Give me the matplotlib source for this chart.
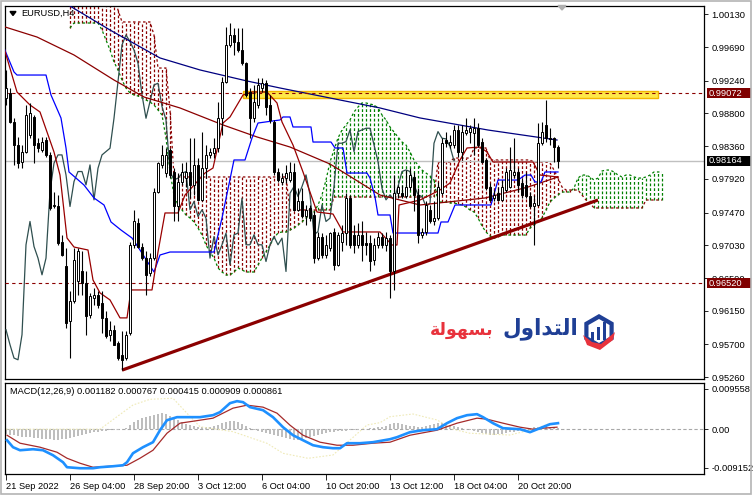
import matplotlib
matplotlib.use("Agg")
import matplotlib.pyplot as plt
import numpy as np
from matplotlib.patches import Rectangle, Polygon
import matplotlib.transforms as mtransforms

plt.rcParams['font.family'] = ['Liberation Sans', 'DejaVu Sans']

W, H = 753, 496

# ---------------- data (EURUSD H4) ----------------
opens = [0.99003,0.99070,0.98691,0.98378,0.98154,0.98288,0.98512,0.98758,0.98400,0.98311,
         0.98445,0.98243,0.97551,0.97551,0.97081,0.96746,0.96009,0.96277,0.96545,0.96679,
         0.96522,0.96098,0.96322,0.96366,0.96254,0.96053,0.95830,0.95897,0.95718,0.95562,
         0.95517,0.95852,0.97037,0.97327,0.97014,0.96858,0.96657,0.96858,0.97752,0.98109,
         0.97997,0.98311,0.98020,0.97551,0.97886,0.97931,0.98020,0.97841,0.98109,0.97640,
         0.98065,0.98243,0.98266,0.98333,0.98735,0.99227,0.99719,0.99853,0.99763,0.99652,
         0.99473,0.99093,0.98735,0.98914,0.99138,0.99205,0.98914,0.98691,0.98020,0.97886,
         0.97931,0.97908,0.98020,0.97506,0.97618,0.97417,0.97528,0.97439,0.96858,0.97148,
         0.96902,0.96992,0.97215,0.96769,0.97081,0.97193,0.97662,0.97171,0.97037,0.97171,
         0.97059,0.97059,0.96836,0.97037,0.97148,0.97037,0.97126,0.96679,0.97729,0.97729,
         0.97685,0.97819,0.97953,0.97707,0.97171,0.97215,0.97506,0.97350,0.97394,0.97729,
         0.98445,0.98378,0.98378,0.98579,0.98288,0.98534,0.98556,0.98534,0.98601,0.98422,
         0.98176,0.97819,0.97662,0.97729,0.97640,0.97774,0.97819,0.97975,0.98020,0.97864,
         0.97841,0.97685,0.97551,0.97573,0.98400,0.98646,0.98476,0.98467,0.98355]
highs = [0.99383,0.99138,0.98735,0.98489,0.98378,0.98914,0.98936,0.98780,0.98467,0.98489,
         0.98489,0.98288,0.97752,0.97707,0.97171,0.96992,0.96411,0.96992,0.96992,0.96947,
         0.96679,0.96389,0.96456,0.96411,0.96411,0.96143,0.96009,0.95964,0.95740,0.95875,
         0.95875,0.97081,0.97506,0.97394,0.97059,0.96947,0.96925,0.97795,0.98154,0.98378,
         0.98333,0.98333,0.98065,0.97997,0.98132,0.98154,0.98467,0.98467,0.98199,0.98556,
         0.98378,0.98333,0.98467,0.98959,0.99294,0.99964,1.00009,0.99942,0.99942,0.99942,
         0.99495,0.99138,0.99182,0.99272,0.99272,0.99249,0.99048,0.98713,0.98065,0.97997,
         0.98109,0.98154,0.98132,0.97795,0.97795,0.97573,0.97573,0.97484,0.97215,0.97193,
         0.97171,0.97215,0.97260,0.97215,0.97305,0.97729,0.97707,0.97305,0.97327,0.97350,
         0.97215,0.97171,0.97126,0.97215,0.97193,0.97215,0.97171,0.97975,0.97841,0.97841,
         0.98042,0.98065,0.98020,0.97795,0.97260,0.97618,0.97573,0.97618,0.97886,0.98467,
         0.98556,0.98512,0.98646,0.98646,0.98646,0.98735,0.98646,0.98735,0.98668,0.98467,
         0.98199,0.97864,0.97774,0.97819,0.97908,0.98065,0.98355,0.98467,0.98065,0.97931,
         0.98020,0.97752,0.97707,0.98668,0.98691,0.98981,0.98601,0.98489,0.98378]
lows = [0.98914,0.98668,0.98109,0.98065,0.98065,0.98266,0.98467,0.98132,0.98288,0.98288,
        0.98221,0.97506,0.97528,0.97037,0.96880,0.95919,0.95517,0.96254,0.96366,0.96366,
        0.95830,0.96053,0.96232,0.96187,0.95852,0.95785,0.95740,0.95696,0.95494,0.95360,
        0.95494,0.95830,0.96992,0.96992,0.96836,0.96366,0.96612,0.96836,0.97729,0.98065,
        0.97953,0.97931,0.97350,0.97350,0.97841,0.97819,0.97662,0.97707,0.97618,0.97618,
        0.97931,0.98199,0.98199,0.98288,0.98512,0.99205,0.99696,0.99584,0.99629,0.99450,
        0.99026,0.98467,0.98691,0.98869,0.99093,0.98780,0.98668,0.97975,0.97886,0.97841,
        0.97864,0.97886,0.97484,0.97484,0.97394,0.97305,0.97350,0.96791,0.96836,0.96858,
        0.96858,0.96947,0.96702,0.96746,0.96947,0.97037,0.96992,0.96925,0.96992,0.96813,
        0.96902,0.96679,0.96769,0.96992,0.96992,0.96947,0.96322,0.96433,0.97662,0.97662,
        0.97662,0.97774,0.97484,0.97059,0.97126,0.97171,0.97327,0.97305,0.97372,0.97707,
        0.98355,0.98333,0.98333,0.98221,0.98176,0.98512,0.98400,0.98243,0.98355,0.98132,
        0.97774,0.97618,0.97618,0.97618,0.97618,0.97752,0.97795,0.97931,0.97752,0.97662,
        0.97662,0.97528,0.97037,0.97551,0.98378,0.98422,0.98378,0.98154,0.98065]
closes = [0.99138,0.98691,0.98378,0.98132,0.98288,0.98780,0.98802,0.98378,0.98333,0.98422,
          0.98243,0.97528,0.97573,0.97059,0.96902,0.95986,0.96277,0.96836,0.96947,0.96522,
          0.96076,0.96344,0.96366,0.96232,0.96053,0.95807,0.95897,0.95696,0.95517,0.95494,
          0.95830,0.97037,0.97350,0.97014,0.96858,0.96634,0.96858,0.97752,0.98132,0.98243,
          0.98243,0.97975,0.97551,0.97886,0.98020,0.98020,0.97841,0.98109,0.97640,0.98065,
          0.98243,0.98288,0.98333,0.98735,0.99227,0.99719,0.99853,0.99763,0.99652,0.99473,
          0.99048,0.98735,0.98959,0.99182,0.99205,0.98892,0.98713,0.98020,0.97908,0.97931,
          0.97997,0.98020,0.97506,0.97618,0.97417,0.97506,0.97394,0.96858,0.97148,0.96902,
          0.97037,0.97193,0.96769,0.97171,0.97193,0.97662,0.97037,0.97037,0.97171,0.97037,
          0.97037,0.96813,0.97037,0.97148,0.97037,0.97126,0.96679,0.97729,0.97819,0.97685,
          0.97819,0.97975,0.97707,0.97171,0.97215,0.97573,0.97350,0.97394,0.97819,0.98400,
          0.98400,0.98422,0.98579,0.98288,0.98556,0.98579,0.98601,0.98601,0.98378,0.98154,
          0.97795,0.97640,0.97707,0.97640,0.97819,0.98020,0.98042,0.98020,0.97841,0.97707,
          0.97685,0.97551,0.97595,0.98400,0.98556,0.98467,0.98458,0.98355,0.98164]

# Ichimoku cloud (Senkou spans), starting at bar 16, projected 26 bars ahead
cloud_start = 16
span_a = ([0.99946] + [1.00013]*7 +
          [0.99919,0.99785,0.99651,0.99490,0.99383,0.99248,0.99141,0.99074,0.99047,0.99034,
           0.99007,0.98980,0.98953,0.98913,0.98846,0.98779,0.98470,0.98014,0.97705,0.97571,
           0.97504,0.97437,0.97397,0.97343,0.97262,0.97168,0.97034,0.96940,0.96860,0.96726,
           0.96672,0.96632,0.96632,0.96672,0.96726,0.96699,0.96672,0.96672,0.96672,0.96766,
           0.96860,0.96940,0.97034,0.97128,0.97195,0.97209,0.97209,0.97235,0.97262,0.97303,
           0.97343,0.97397,0.97437,0.97477,0.97571,0.97705,0.97906,0.98148,0.98309,0.98470,
           0.98577,0.98644,0.98712,0.98819,0.98886,0.98940,0.98940,0.98926,0.98913,0.98873,
           0.98779,0.98712,0.98618,0.98551,0.98484,0.98416,0.98376,0.98282,0.98175,0.98107,
           0.98040,0.98000,0.97960,0.97906,0.97611,0.97611,0.97611,0.97598,0.97598,0.97584,
           0.97571,0.97544,0.97504,0.97477,0.97397,0.97289,0.97209,0.97155,0.97128,0.97141] +
          [0.97168]*7 +
          [0.97262,0.97303,0.97343,0.97397,0.97504,0.97611,0.97665,0.97705,0.97745,0.97745,
           0.97745,0.97799,0.97933,0.97973,0.97973,0.97947,0.97906,0.97933,0.98027,0.98040,
           0.98040,0.98014,0.97973,0.97947,0.97973,0.97973,0.97947,0.97933,0.97933,0.97947,
           0.97973,0.98014,0.98014,0.98014])
span_b = ([1.00400]*12 + [1.00188] + [1.00027]*8 + [0.99852] + [0.99409]*3 + [0.98846] +
          [0.97947]*29 + [0.97504]*11 + [0.97678]*26 + [0.98148]*4 + [0.98201]*5 +
          [0.98336]*4 + [0.98175]*11 + [0.98148]*4 + [0.98134, 0.98040, 0.97933, 0.97812] +
          [0.97772]*4 + [0.97705, 0.97638, 0.97598] + [0.97531]*13 + [0.97638]*5)

# Tenkan-sen (read vertices)
tenkan_x = [-0.5,2.75,6,8.5,10.25,12,13.5,15.25,17,20.5,21.75,23.5,26,28.5,30.25,31.25,34.5,36.5,
            38,39.75,43,44.75,49.75,51.75,54.25,56,59.25,61.5,65.25,67.75,69,71.75,74.25,76,77.75,
            81.75,84.25,93.5,96.5,97.75,98.25,103.5,108.5,111,113.5,115.25,118.5,120.25,121.75,
            131.75,133.5,138]
tenkan_y = [0.99678,0.99087,0.98913,0.98819,0.98551,0.98282,0.97973,0.97128,0.97007,0.96967,0.96565,
            0.96391,0.96297,0.96056,0.96056,0.96431,0.96431,0.96431,0.96940,0.97464,0.97464,0.97705,
            0.98000,0.98067,0.98671,0.98752,0.99047,0.99087,0.99087,0.98940,0.98685,0.98376,0.98014,
            0.97745,0.97477,0.97450,0.97209,0.97209,0.97034,0.97034,0.97571,0.97638,0.97772,0.97866,
            0.98175,0.98336,0.98349,0.98282,0.98148,0.98148,0.97973,0.97947]
# Kijun-sen (read vertices)
kijun_x = [-0.5,2,2.75,10,11.25,13.75,15,15.75,19.5,22,24.5,26.25,28.75,31.5,33.5,37,38.5,41,52,54,
           57,59.75,61.5,63,68.5,69.25,71,71.75,76.25,76.75,81.25,82.25,84.25,85.25,90.25,91,92.25,
           93,96,96.75,108,108.75,110.5,112.25,121.25,123,128,129.75,131.25,132.25,133.75,134.75,138]
kijun_y = [0.99678,0.99356,0.99315,0.99315,0.99047,0.98738,0.98336,0.98014,0.97839,0.97665,0.97571,
           0.97343,0.97235,0.97128,0.96967,0.96672,0.96900,0.96940,0.96940,0.97397,0.98175,0.98175,
           0.98470,0.98671,0.98712,0.98752,0.98752,0.98618,0.98618,0.98416,0.98416,0.98336,0.98336,
           0.98000,0.98000,0.97933,0.97678,0.97437,0.97437,0.97195,0.97195,0.97343,0.97343,0.97571,
           0.97571,0.97906,0.97906,0.97973,0.97973,0.97880,0.97880,0.98014,0.98014]
# Moving averages (read vertices)
ma_slow_x = [16,26,38.5,48.5,60.25,68.5,83.5,93.5,103.5,120.5,137.75]
ma_slow_y = [1.00241,0.99919,0.99544,0.99383,0.99235,0.99141,0.98980,0.98873,0.98739,0.98577,0.98443]
ma_mid_x = [-0.25,7.75,17,27,34.5,43.5,54.25,62.75,71,81,93.5,103.5,119.75,130.5,138]
ma_mid_y = [0.99960,0.99825,0.99584,0.99248,0.99020,0.98873,0.98645,0.98484,0.98349,0.98121,
            0.97705,0.97571,0.97665,0.97812,0.97947]

# horizontal levels / drawings
resistance = 0.99072
support = 0.96520
zone_lo, zone_hi = 0.99004, 0.99095
zone_start, zone_end = 59.25, 163.0
trend_x = [29, 148]
trend_y = [0.95355, 0.97638]
last_price = 0.98164

price_ticks = [1.00130,0.99690,0.99240,0.98800,0.98360,0.97920,0.97470,0.97030,0.96590,0.96150,0.95700,0.95260]
time_tick_bars = [0,16,32,48,64,80,96,112,128]
time_tick_labels = ["21 Sep 2022","26 Sep 04:00","28 Sep 20:00","3 Oct 12:00","6 Oct 04:00",
                    "10 Oct 20:00","13 Oct 12:00","18 Oct 04:00","20 Oct 20:00"]

# MACD panel
macd_x = [0.25,1.75,3.5,6.75,9.25,11.75,14.25,15.25,18.5,21.75,23.5,26.75,29.25,30.25,31.75,34.25,36.75,
          38.5,40.25,42.75,46,48.5,51.75,53.5,56,57.75,59.25,61,64.25,66.75,69.25,71.75,74.25,76.75,
          79.25,81.75,83.5,85.25,88.5,91.75,96,97.75,101,104.25,107.75,110.25,112.75,115.25,117.75,
          119.25,121.75,124.25,128.5,131,133.5,136,138]
macd_y = [-0.00262,-0.00428,-0.00500,-0.00476,-0.00500,-0.00619,-0.00785,-0.00904,-0.00928,-0.00928,
          -0.00904,-0.00881,-0.00857,-0.00785,-0.00571,-0.00428,-0.00309,-0.00024,0.00214,0.00286,
          0.00286,0.00286,0.00333,0.00405,0.00619,0.00666,0.00643,0.00524,0.00452,0.00286,
          0.00048,-0.00143,-0.00262,-0.00381,-0.00428,-0.00452,-0.00452,-0.00333,-0.00333,-0.00309,
          -0.00238,-0.00190,-0.00071,-0.00024,0.0,0.00143,0.00262,0.00333,0.00357,0.00286,
          0.00143,0.00024,0.0,-0.00071,0.00024,0.00119,0.00143]
signal_x = [0.25,3.5,8.5,12.75,15.25,18.5,21.75,26,30.25,33.5,36.75,40.25,43.5,48.5,51.75,56.75,60.25,
            64.25,67.75,71,74.25,78.5,82.75,86.75,91.75,96,101,107.75,112.75,117.75,120.25,124.25,
            128.5,131.75,134.25,137.75]
signal_y = [-0.00143,-0.00333,-0.00428,-0.00547,-0.00690,-0.00809,-0.00904,-0.00881,-0.00857,-0.00690,
            -0.00500,-0.00095,0.00143,0.00214,0.00262,0.00500,0.00571,0.00524,0.00381,0.00095,
            -0.00143,-0.00309,-0.00381,-0.00381,-0.00333,-0.00309,-0.00143,-0.00024,0.00143,0.00262,
            0.00238,0.00143,0.00048,0.0,0.00024,0.00048]
hist_y = [-0.00119,-0.00143,-0.00143,-0.00166,-0.00190,-0.00190,-0.00190,-0.00214,
          -0.00214,-0.00238,-0.00238,-0.00238,-0.00262,-0.00262,-0.00238,-0.00238,
          -0.00214,-0.00190,-0.00166,-0.00143,-0.00119,-0.00095,-0.00071,-0.00071,
          -0.00048,-0.00048,-0.00024,-0.00024,-0.00024,0.0,0.00024,0.00095,
          0.00166,0.00214,0.00262,0.00285,0.00309,0.00333,0.00357,0.00380,
          0.00357,0.00309,0.00262,0.00214,0.00166,0.00119,0.00095,0.00071,
          0.00048,0.00048,0.00048,0.00048,0.00071,0.00095,0.00143,0.00166,
          0.00190,0.00190,0.00166,0.00119,0.00071,0.00024,-0.00024,-0.00048,
          -0.00071,-0.00095,-0.00119,-0.00143,-0.00166,-0.00190,-0.00214,-0.00238,
          -0.00262,-0.00262,-0.00238,-0.00214,-0.00190,-0.00166,-0.00143,-0.00119,
          -0.00095,-0.00071,-0.00071,-0.00048,-0.00048,-0.00048,-0.00024,-0.00024,
          -0.00024,0.0,0.0,0.00024,0.00024,0.00048,0.00048,0.00071,
          0.00119,0.00143,0.00143,0.00119,0.00095,0.00071,0.00071,0.00048,
          0.00048,0.00071,0.00095,0.00119,0.00143,0.00143,0.00119,0.00095,
          0.00071,0.00048,0.00024,0.0,-0.00024,-0.00048,-0.00071,-0.00095,
          -0.00119,-0.00143,-0.00143,-0.00119,-0.00119,-0.00095,-0.00071,-0.00071,
          -0.00048,-0.00024,0.0,0.00024,0.00048,0.00048,0.00071,0.00071,
          0.00048,0.00048,0.00024]
aux_x = [0,23.5,27.75,31.75,36,41.75,45.25,48.5,56.75,65.25,69.25,75.5,81.75,86,90.25,93.5,96,
         101.75,107.75,111.75,116,126,132.75,136]
aux_y = [0.0,0.0,0.00297,0.00575,0.00711,0.00735,0.00378,0.00059,-0.00059,-0.00335,-0.00573,
         -0.00692,-0.00613,-0.00257,0.00100,0.00155,0.00297,0.00361,0.00219,0.0,-0.00097,-0.00138,
         0.00021,0.00140]
macd_ticks = [0.009558, 0.0, -0.009152]
macd_tick_labels = ["0.009558", "0.00", "-0.009152"]
macd_title = "MACD(12,26,9) 0.001182 0.000767 0.000415 0.000909 0.000861"
symbol_title = "EURUSD,H4"

# ---------------- figure ----------------
fig = plt.figure(figsize=(7.53, 4.96), dpi=100)
fig.patch.set_facecolor("white")

def frect(x0, y0, x1, y1):
    return [x0 / W, 1 - y1 / H, (x1 - x0) / W, (y1 - y0) / H]

ax = fig.add_axes(frect(5, 5.5, 704, 379))
axm = fig.add_axes(frect(5, 383, 704, 474))
XLIM = (-0.25, 174.5)
ax.set_xlim(*XLIM)
ax.set_ylim(0.95236, 1.00248)
axm.set_xlim(*XLIM)
axm.set_ylim(-0.01065, 0.01098)

DRED = '#8B0000'
FS = 6.7

# cloud
sa = np.array(span_a); sb = np.array(span_b)
cb = np.arange(cloud_start, cloud_start + len(sa))
bull = sa > sb
ax.vlines(cb[bull], sb[bull], sa[bull], colors='#008000', linestyles=(0, (2.2, 1.6)), lw=0.9, zorder=1)
ax.vlines(cb[~bull], sa[~bull], sb[~bull], colors=DRED, linestyles=(0, (2.2, 1.6)), lw=0.9, zorder=1)
ax.plot(cb, sa, color='#008000', ls=(0, (2, 2)), lw=0.9, zorder=1.5)
ax.plot(cb, sb, color=DRED, ls=(0, (2, 2)), lw=0.9, zorder=1.5)

# resistance zone
ax.add_patch(Rectangle((zone_start, zone_lo), zone_end - zone_start, zone_hi - zone_lo,
                       facecolor='#FFE94A', edgecolor='#F2B600', lw=1.0, zorder=2))

# levels
ax.axhline(last_price, color='#C0C0C0', lw=1.0, zorder=2.2)
ax.axhline(resistance, color=DRED, lw=0.8, ls=(0, (3, 3)), zorder=4)
ax.axhline(support, color=DRED, lw=0.8, ls=(0, (3, 3)), zorder=4)

# indicator lines
o = np.array(opens); h = np.array(highs); l = np.array(lows); c = np.array(closes)
n = len(c)
xs = np.arange(n)
ax.plot(xs[:n - 26], c[26:], color='#2F4F4F', lw=0.9, zorder=3)          # Chikou span
ax.plot(ma_slow_x, ma_slow_y, color='#000080', lw=0.9, zorder=3)
ax.plot(ma_mid_x, ma_mid_y, color=DRED, lw=0.9, zorder=3)
ax.plot(kijun_x, kijun_y, color='#0000FF', lw=0.9, zorder=3)
ax.plot(tenkan_x, tenkan_y, color='#990000', lw=0.9, zorder=3)

# trend line
ax.plot(trend_x, trend_y, color=DRED, lw=2.3, solid_capstyle='butt', zorder=5)

# candles
up = c >= o
ax.vlines(xs, l, h, color='black', lw=0.8, zorder=6)
bot = np.minimum(o, c)
bh = np.maximum(np.abs(c - o), 0.00004)
ax.bar(xs[up], bh[up], bottom=bot[up], width=0.72, color='white', edgecolor='black', linewidth=0.7, zorder=7)
ax.bar(xs[~up], bh[~up], bottom=bot[~up], width=0.72, color='black', edgecolor='black', linewidth=0.7, zorder=7)

# axes styling
for a in (ax, axm):
    for s in a.spines.values():
        s.set_color('black'); s.set_linewidth(0.9)
    a.yaxis.tick_right()
    a.tick_params(axis='y', direction='out', length=3, width=0.6, pad=2.2, labelsize=FS, colors='black')
ax.set_xticks([])
ax.set_yticks(price_ticks)
ax.set_yticklabels([f"{v:.5f}" for v in price_ticks])

# price labels on the right scale
bt = mtransforms.blended_transform_factory(ax.transAxes, ax.transData)
x0 = (706.5 - 5) / 699
bw = (750.5 - 706.5) / 699
hh = 5 * 0.0001342
for val, col in [(resistance, '#800000'), (last_price, 'black'), (support, '#800000')]:
    ax.add_patch(Rectangle((x0, val - hh), bw, 2 * hh, transform=bt, facecolor=col,
                           edgecolor='none', clip_on=False, zorder=20))
    ax.text(x0 + 2.5 / 699, val, f"{val:.5f}", transform=bt, color='white', fontsize=FS,
            va='center', ha='left', clip_on=False, zorder=21)

# MACD panel
axm.axhline(0, color='#A8A8A8', lw=0.8, ls=(0, (3, 2)), zorder=1)
axm.bar(xs, hist_y, width=0.7, color='#BEBEBE', zorder=2)
axm.plot(aux_x, aux_y, color='#EFEAB8', lw=0.8, ls=(0, (1.5, 1.5)), zorder=2.5)
axm.plot(signal_x, signal_y, color='#A52A2A', lw=0.9, zorder=3)
axm.plot(macd_x, macd_y, color='#1E90FF', lw=1.9, zorder=4)
axm.set_yticks(macd_ticks)
axm.set_yticklabels(macd_tick_labels)
axm.set_xticks(time_tick_bars)
axm.set_xticklabels(time_tick_labels, ha='left')
axm.tick_params(axis='x', direction='out', length=4, width=0.6, pad=1.5, labelsize=FS, colors='black')
axm.text((10 - 5) / 699, (474 - 391.5) / 91, macd_title, transform=axm.transAxes,
         fontsize=FS, va='center', ha='left', color='black')

ax.text((21.5 - 5) / 699, (379 - 13.5) / 373.5, symbol_title, transform=ax.transAxes,
        fontsize=FS, va='center', ha='left', color='black', zorder=22)

# ---------------- overlay (decorations in pixel space) ----------------
ov = fig.add_axes([0, 0, 1, 1])
ov.set_xlim(0, W); ov.set_ylim(H, 0); ov.axis('off')
ov.add_patch(Polygon([(10, 11.5), (16, 11.5), (13, 15.5)], closed=True, color='black'))
ov.add_patch(Polygon([(558, 5.5), (566, 5.5), (562, 10)], closed=True, color='#B0B0B0'))
ov.add_patch(Rectangle((0.5, 0.5), 751, 493, fill=False, edgecolor='#B4B4B4', lw=1.2))

# logo
hexv = [(599, 314), (613.7, 322.5), (613.7, 339.5), (599, 348), (584.3, 339.5), (584.3, 322.5)]
ov.add_patch(Polygon(hexv, closed=True, facecolor='#1F3F95', edgecolor='none'))
inner = [(599, 319), (609.5, 325), (609.5, 337), (599, 343), (588.5, 337), (588.5, 325)]
ov.add_patch(Polygon(inner, closed=True, facecolor='white', edgecolor='none'))
for bx, top in [(591, 332), (597, 327), (603, 322)]:
    ov.add_patch(Rectangle((bx, top), 3.2, 340 - top, facecolor='#1F3F95', edgecolor='none'))
ov.add_patch(Polygon([(583, 335), (592, 342), (601, 344), (615, 332), (613, 340), (600, 350), (587, 345)],
                     closed=True, facecolor='#E8323C', edgecolor='none'))
blue_word = "\uFEDD\uFEED\uFE8D\uFEAA\uFE98\uFEDF\uFE8D"   # التداول (visual order)
red_word = "\uFE94\uFEDF\uFEEE\uFEEC\uFEB4\uFE91"          # بسهولة (visual order)
ov.text(578, 329, blue_word, fontsize=15.5, fontweight='bold', color='#1F3F95',
        ha='right', va='center', family=['DejaVu Sans'])
ov.text(494, 330, red_word, fontsize=12.5, fontweight='bold', color='#E8323C',
        ha='right', va='center', family=['DejaVu Sans'])

fig.savefig("out.png", dpi=100, facecolor='white')
